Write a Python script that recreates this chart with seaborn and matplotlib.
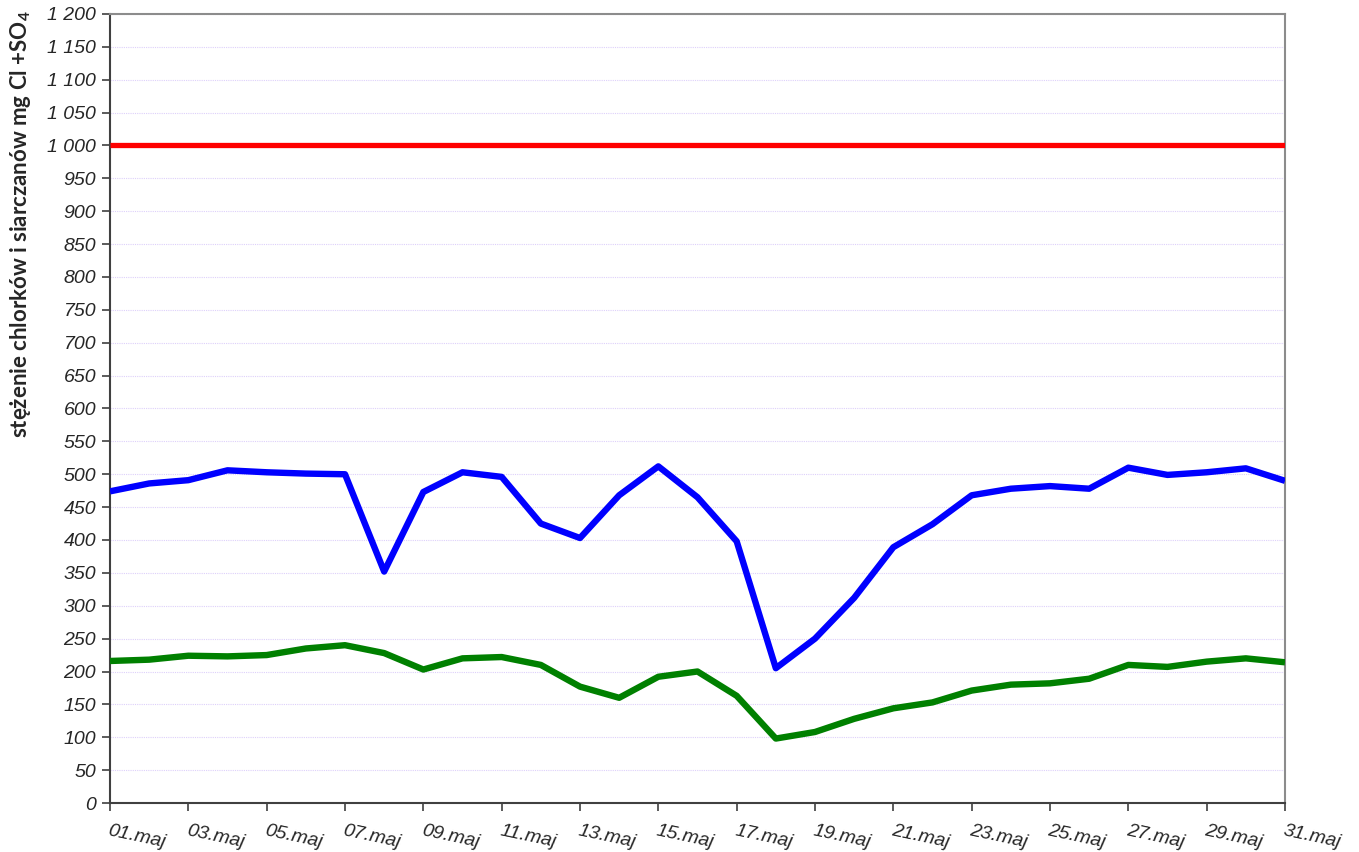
import matplotlib
matplotlib.use("Agg")
import matplotlib.pyplot as plt
import seaborn as sns
from matplotlib.ticker import FuncFormatter, MultipleLocator

# day of May (1..31)
days = list(range(1, 32))

# blue series: mg Cl + SO4
blue_vals = [474, 486, 491, 506, 503, 501, 500, 352, 473, 503,
             496, 425, 403, 468, 512, 465, 398, 205, 250, 312,
             389, 424, 468, 478, 482, 478, 510, 499, 503, 509, 490]

# green series: mg Cl + SO4
green_vals = [216, 218, 224, 223, 225, 235, 240, 228, 203, 220,
              222, 210, 177, 160, 192, 200, 163, 98, 108, 128,
              144, 153, 171, 180, 182, 189, 210, 207, 215, 220, 214]

limit_val = 1000
tick_days = days[::2]
tick_labels = [f"{d:02d}.maj" for d in tick_days]
y_label = "stężenie chlorków i siarczanów mg Cl +SO$_\\mathbf{4}$"

sns.set_style("white")
plt.rcParams['font.family'] = ['Liberation Sans', 'DejaVu Sans']
plt.rcParams['mathtext.fontset'] = 'custom'
plt.rcParams['mathtext.bf'] = 'Lato:bold'
plt.rcParams['mathtext.rm'] = 'Lato:bold'

fig = plt.figure(figsize=(13.59, 8.52), dpi=100)
ax = fig.add_axes([110 / 1359, 1 - 803 / 852, 1175 / 1359, 789 / 852])

# gridlines
ax.yaxis.grid(True, color='#ddd0fa', linestyle=(0, (1, 1)), linewidth=0.8)
ax.set_axisbelow(True)

ax.axhline(limit_val, color='#ff0000', linewidth=3.8, zorder=3)
sns.lineplot(x=days, y=blue_vals, color='#0000ff', linewidth=4.6, ax=ax,
             zorder=4)
sns.lineplot(x=days, y=green_vals, color='#008000', linewidth=4.6, ax=ax,
             zorder=4)
for ln in ax.get_lines():
    ln.set_solid_joinstyle('round')
    ln.set_solid_capstyle('butt')

ax.set_xlim(1, 31)
ax.set_ylim(0, 1200)
ax.yaxis.set_major_locator(MultipleLocator(50))
ax.yaxis.set_major_formatter(FuncFormatter(lambda v, p: f"{int(v):,}".replace(",", " ")))
ax.set_xticks(tick_days)
ax.set_xticklabels(tick_labels, rotation=-12, ha='left', va='top',
                   rotation_mode='anchor', fontstyle='italic', fontsize=14)
for lab in ax.get_yticklabels():
    lab.set_fontstyle('italic')
    lab.set_fontsize(14)

ax.tick_params(axis='both', which='major', direction='out', length=6,
               width=1.2, color='#404040', left=True, bottom=True)
ax.tick_params(axis='x', pad=8)
ax.tick_params(axis='y', pad=4)

for side in ['left', 'bottom']:
    ax.spines[side].set_color('#404040')
    ax.spines[side].set_linewidth(1.5)
for side in ['top', 'right']:
    ax.spines[side].set_color('#8c8c8c')
    ax.spines[side].set_linewidth(1.5)

ax.set_xlabel("")
fig.text(21 / 1359, 1 - 10 / 852, y_label, rotation=90, ha='center', va='top',
         fontsize=16, fontweight='bold', family=['Lato', 'DejaVu Sans'])

fig.savefig("out.png", dpi=100)
